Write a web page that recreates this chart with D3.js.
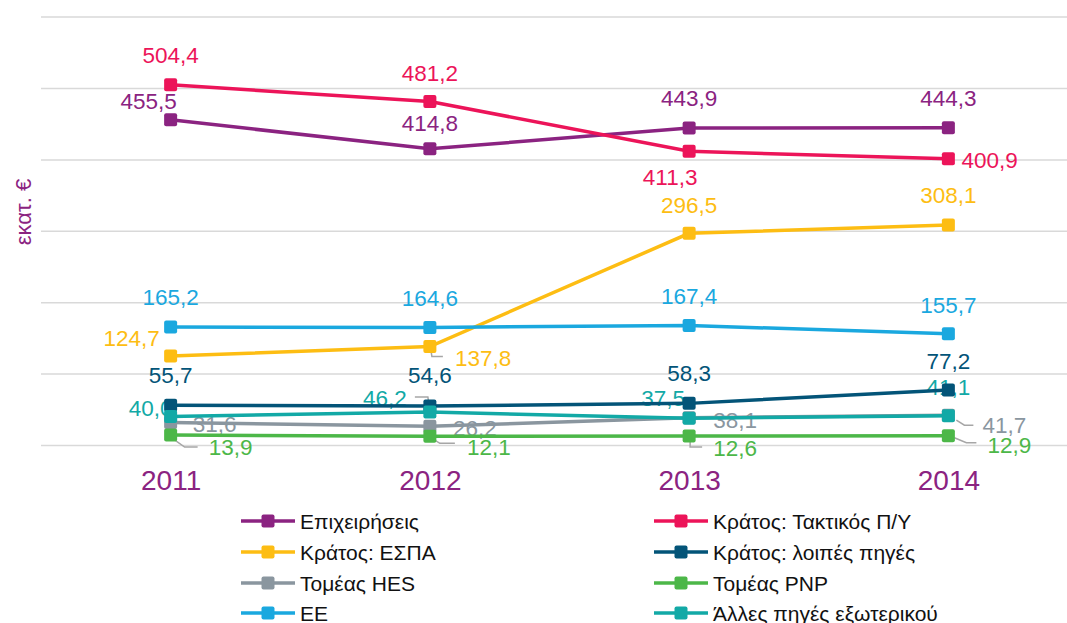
<!DOCTYPE html>
<html>
<head>
<meta charset="utf-8">
<script src="https://cdn.jsdelivr.net/npm/d3@7"></script>
<style>
	body { margin: 0; background: #fff; }
	svg { display: block; font-family: "Liberation Sans", Arial, sans-serif; }
	.grid line { stroke: #d9d9d9; stroke-width: 1.5px; }
	.leader { fill: none; stroke: #a6a6a6; stroke-width: 1.5px; }
</style>
</head>
<body>
<svg id="chart"></svg>
<script>
// chart values
var years = ["2011", "2012", "2013", "2014"];
var seriesNames = [
	"Επιχειρήσεις", "Κράτος: Τακτικός Π/Υ",
	"Κράτος: ΕΣΠΑ", "Κράτος: λοιπές πηγές",
	"Τομέας HES", "Τομέας PNP",
	"ΕΕ", "Άλλες πηγές εξωτερικού"
];
var epixeiriseis = [455.5, 414.8, 443.9, 444.3];
var taktikos = [504.4, 481.2, 411.3, 400.9];
var espa = [124.7, 137.8, 296.5, 308.1];
var loipes = [55.7, 54.6, 58.3, 77.2];
var hes = [31.6, 26.2, 38.1, 41.7];
var pnp = [13.9, 12.1, 12.6, 12.9];
var ee = [165.2, 164.6, 167.4, 155.7];
var alles = [40.0, 46.2, 37.5, 41.1];
var yTicks = [0, 100, 200, 300, 400, 500, 600];

var seriesValues = [epixeiriseis, taktikos, espa, loipes, hes, pnp, ee, alles];
var colors = ["#8b2381", "#ec1459", "#fdbd13", "#035478", "#8a969f", "#4cb748", "#1aa8df", "#12a9a6"];

// label placement, relative to the marker: [dx, dy, anchor]
var labelPos = [
	[[-22, -19, "middle"], [0, -26, "middle"], [0, -30, "middle"], [0, -30, "middle"]],
	[[0, -30, "middle"], [0, -29, "middle"], [-19, 26, "middle"], [13, 1, "start"]],
	[[-39, -18, "middle"], [25, 11, "start"], [0, -28, "middle"], [0, -30, "middle"]],
	[[0, -30, "middle"], [0, -31, "middle"], [0, -30, "middle"], [0, -29, "middle"]],
	[[22, 1, "start"], [23, 2, "start"], [24, 2, "start"], [34, 10, "start"]],
	[[38, 12, "start"], [37, 11, "start"], [24, 12, "start"], [39, 9, "start"]],
	[[0, -30, "middle"], [0, -30, "middle"], [0, -30, "middle"], [0, -29, "middle"]],
	[[-20, -9, "middle"], [-45, -14, "middle"], [-26, -20, "middle"], [0, -29, "middle"]]
];
// leader lines for the labels that sit away from their point: [series, year, points]
var leaders = [
	[2, 1, [[1, 3], [2, 10], [13, 10]]],
	[7, 1, [[-15, -15], [-2, -15], [0, -2]]],
	[4, 3, [[8, 5], [16, 10], [25, 10]]],
	[5, 0, [[0, 2], [14, 12], [27, 12]]],
	[5, 1, [[2, 2], [10, 7], [25, 7]]],
	[5, 2, [[1, 2], [1, 11], [13, 11]]],
	[5, 3, [[6, 2], [18, 7], [28, 7]]]
];

var width = 1067, height = 623;
var plot = {left: 41, right: 1078, top: 16.6, bottom: 445};
var labelColor = "#8b2381";

var svg = d3.select("#chart")
	.attr("width", width)
	.attr("height", height);

var x = d3.scalePoint()
	.domain(years)
	.range([plot.left, plot.right])
	.padding(0.5);

var y = d3.scaleLinear()
	.domain([0, 600])
	.range([plot.bottom, plot.top]);

// horizontal grid
svg.append("g")
	.attr("class", "grid")
	.attr("transform", "translate(" + plot.left + ",0)")
	.call(d3.axisLeft(y).tickValues(yTicks).tickSize(-(plot.right - plot.left)).tickFormat(""))
	.call(function(g) { g.select(".domain").remove(); });

// year labels
svg.append("g")
	.attr("transform", "translate(0," + plot.bottom + ")")
	.call(d3.axisBottom(x).tickSize(0).tickPadding(25))
	.call(function(g) {
		g.select(".domain").remove();
		g.selectAll("text")
			.style("font-family", "'Liberation Sans', Arial, sans-serif")
			.style("font-size", "28px")
			.attr("fill", labelColor);
	});

// axis title
svg.append("text")
	.attr("transform", "translate(31,212) rotate(-90)")
	.attr("text-anchor", "middle")
	.style("font-size", "22px")
	.attr("fill", labelColor)
	.text("εκατ. €");

// data labels first, the lines end up on top of them as in the original
var labels = svg.append("g");
seriesValues.forEach(function(values, s) {
	values.forEach(function(v, i) {
		var p = labelPos[s][i];
		labels.append("text")
			.attr("x", x(years[i]) + p[0])
			.attr("y", y(v) + p[1])
			.attr("dy", "0.36em")
			.attr("text-anchor", p[2])
			.style("font-size", "22.5px")
			.attr("fill", colors[s])
			.text(d3.format(".1f")(v).replace(".", ","));
	});
});

leaders.forEach(function(l) {
	var cx = x(years[l[1]]), cy = y(seriesValues[l[0]][l[1]]);
	svg.append("path")
		.attr("class", "leader")
		.attr("d", d3.line()(l[2].map(function(p) { return [cx + p[0], cy + p[1]]; })));
});

var line = d3.line()
	.x(function(d, i) { return x(years[i]); })
	.y(function(d) { return y(d); });

var markerSize = 13;
seriesValues.forEach(function(values, s) {
	var g = svg.append("g");
	g.append("path")
		.attr("d", line(values))
		.attr("fill", "none")
		.attr("stroke", colors[s])
		.attr("stroke-width", 3.5);
	g.selectAll("rect")
		.data(values)
		.enter().append("rect")
			.attr("x", function(d, i) { return x(years[i]) - markerSize / 2; })
			.attr("y", function(d) { return y(d) - markerSize / 2; })
			.attr("width", markerSize)
			.attr("height", markerSize)
			.attr("rx", 2)
			.attr("fill", colors[s]);
});

// legend, two columns
var legendCols = [241, 654];
var legendRows = [521, 552, 583, 613];
seriesNames.forEach(function(name, s) {
	var lx = legendCols[s % 2], ly = legendRows[Math.floor(s / 2)];
	var g = svg.append("g").attr("transform", "translate(" + lx + "," + ly + ")");
	g.append("line")
		.attr("x1", 0).attr("x2", 54)
		.attr("stroke", colors[s])
		.attr("stroke-width", 3.5);
	g.append("rect")
		.attr("x", 27 - markerSize / 2)
		.attr("y", -markerSize / 2)
		.attr("width", markerSize)
		.attr("height", markerSize)
		.attr("rx", 2)
		.attr("fill", colors[s]);
	g.append("text")
		.attr("x", 59)
		.attr("dy", "0.36em")
		.style("font-size", "21px")
		.attr("fill", "#111")
		.text(name);
});
</script>
</body>
</html>
